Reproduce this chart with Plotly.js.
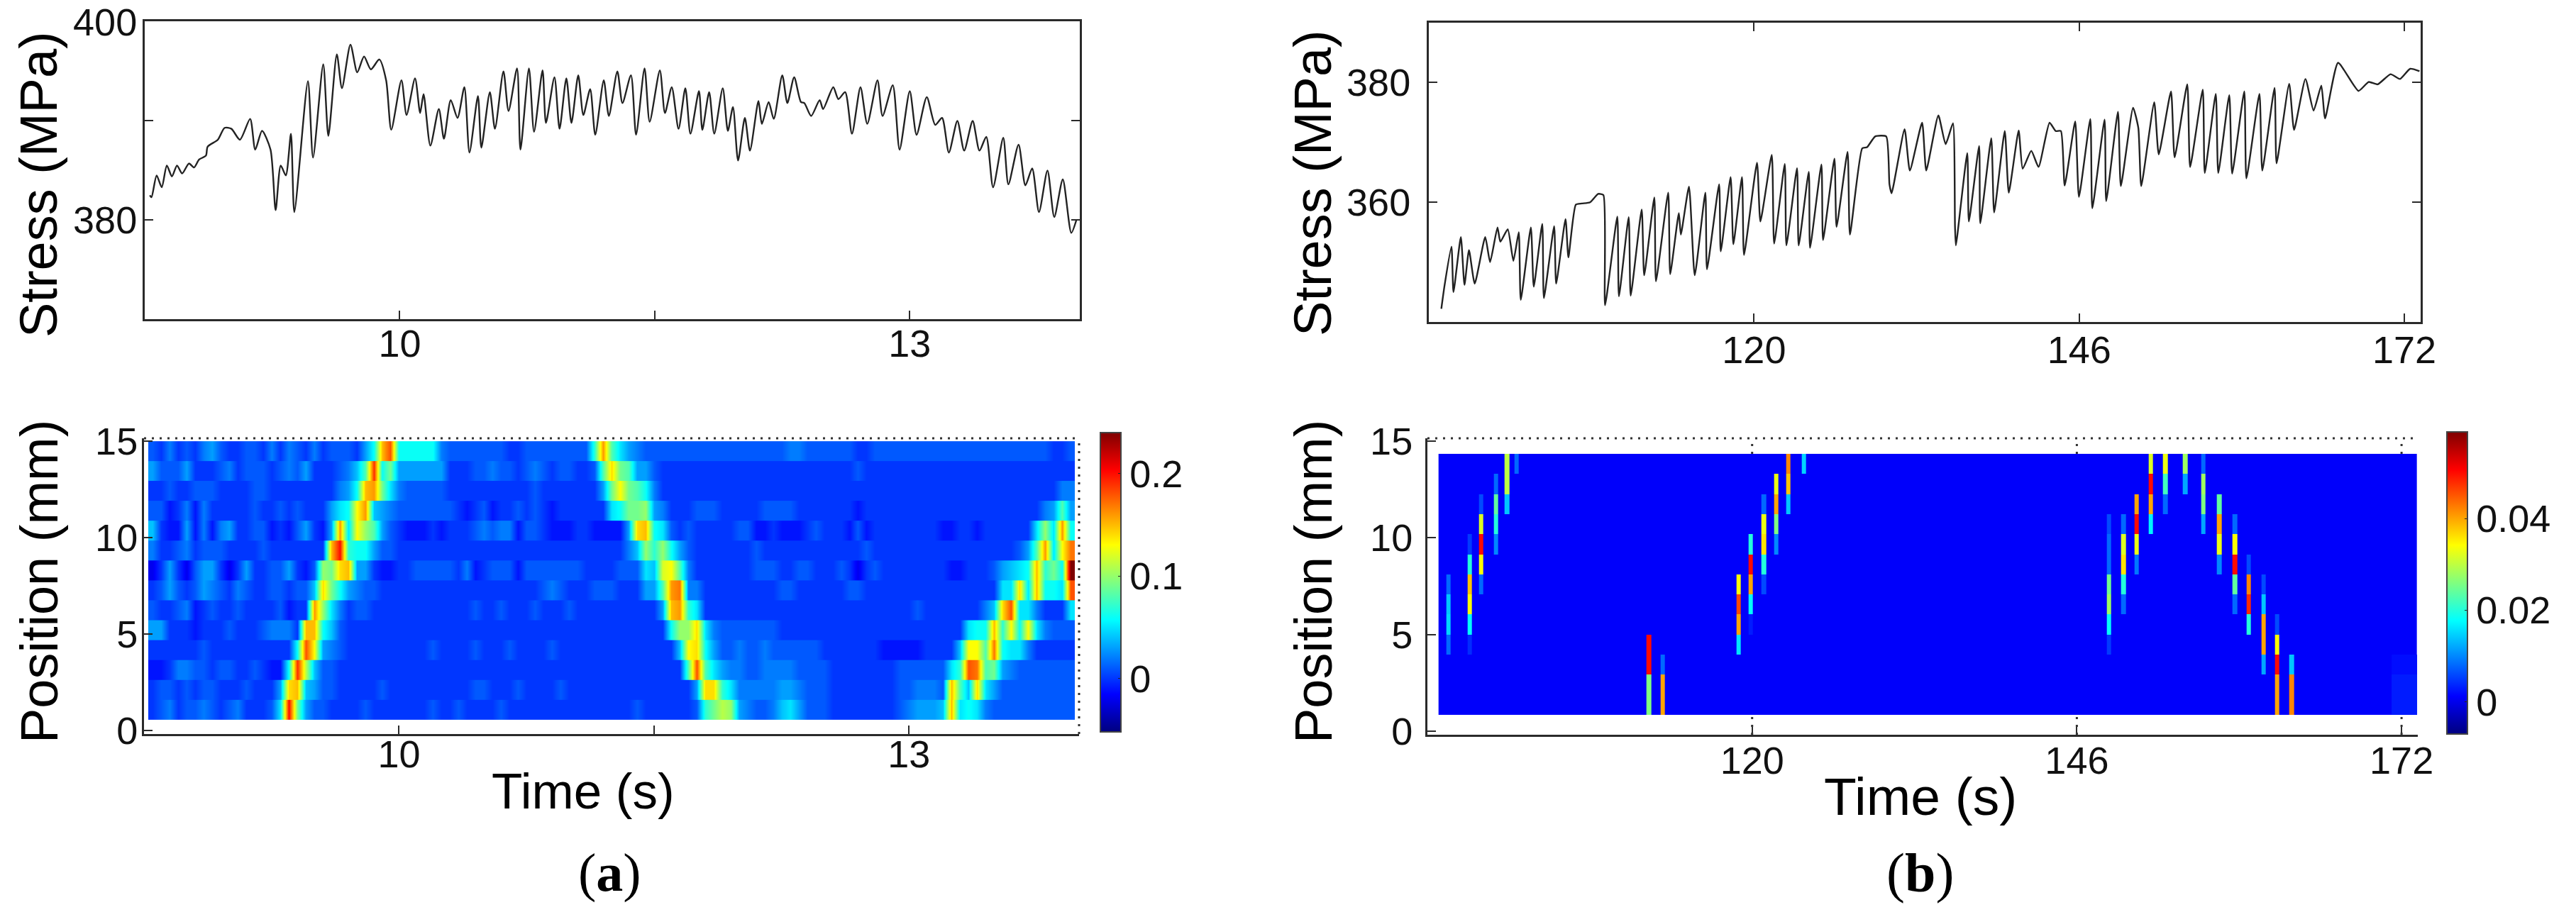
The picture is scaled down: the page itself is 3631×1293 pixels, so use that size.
<!DOCTYPE html>
<html>
<head>
<meta charset="utf-8">
<script src="https://cdn.plot.ly/plotly-3.0.1.min.js"></script>
<style>body{margin:0;background:#fff}</style>
</head>
<body>
<div id="chart" style="width:3631px;height:1293px"></div>
<script>
//Stress trace of panel (a), turning points
var aTime=[8.53,8.54,8.57,8.60,8.63,8.66,8.69,8.72,8.76,8.79,8.82,8.86,8.87,8.93,8.97,9.01,9.06,9.12,9.15,9.19,9.24,9.27,9.30,9.33,9.36,9.38,9.46,9.49,9.55,9.58,9.63,9.66,9.71,9.75,9.79,9.83,9.88,9.92,9.95,10.01,10.04,10.09,10.12,10.14,10.18,10.23,10.26,10.30,10.34,10.38,10.41,10.46,10.48,10.53,10.56,10.61,10.64,10.69,10.71,10.76,10.79,10.84,10.86,10.91,
10.94,10.98,11.01,11.05,11.08,11.12,11.15,11.20,11.23,11.28,11.31,11.36,11.39,11.44,11.47,11.53,11.56,11.60,11.64,11.68,11.71,11.76,11.78,11.82,11.85,11.90,11.93,11.96,11.99,12.03,12.06,12.11,12.13,12.17,12.20,12.25,12.28,12.32,12.36,12.38,12.42,12.47,12.49,12.55,12.58,12.62,12.66,12.71,12.75,12.81,12.84,12.90,12.94,13.00,13.04,13.10,13.15,13.19,13.23,13.28,13.32,13.37,13.41,13.45,13.49,13.55,13.58,13.64,13.68,13.72,13.76,13.81,13.85,13.90,13.95,13.98]
var aStress=[382.5,382.3,384.5,383.3,385.5,384.4,385.5,384.7,385.7,385.3,386.1,386.5,387.4,388.1,389.3,389.2,388.1,390.2,387.1,389.0,387.1,381.0,385.5,384.5,388.7,380.8,394.0,386.3,395.7,388.5,396.7,393.3,397.7,394.9,396.5,395.2,396.2,394.1,389.1,394.1,390.6,394.3,390.8,392.7,387.5,391.2,388.2,392.1,390.3,393.4,386.8,392.5,387.3,392.9,389.2,395.0,391.0,395.3,387.1,395.3,388.9,395.1,389.8,394.4,
389.2,394.3,389.8,394.6,390.6,393.2,388.6,394.1,390.5,395.0,391.8,394.6,388.6,395.3,389.9,395.1,390.8,393.4,389.2,393.3,388.7,393.0,389.1,392.9,388.7,393.3,389.0,391.4,386.0,390.3,387.0,392.0,389.7,391.9,390.2,394.6,391.8,394.4,391.9,391.8,390.5,392.1,391.2,393.4,392.2,392.9,388.7,393.4,389.7,394.1,390.5,393.6,387.1,393.0,388.6,392.4,389.6,390.3,386.8,390.0,387.0,390.0,387.0,388.4,383.3,388.3,383.6,387.6,383.5,385.2,380.8,385.0,380.3,384.1,378.7,380.0]

//Stress trace of panel (b)
var bTime=[95.0,95.25,95.81,95.97,96.56,96.85,97.21,97.67,98.51,98.90,99.49,99.72,100.31,100.76,101.19,101.35,102.16,102.39,103.07,103.20,104.02,104.18,104.93,105.16,105.75,106.24,106.89,107.54,107.96,108.09,109.07,109.20,109.98,110.14,111.02,111.22,112.03,112.16,113.14,113.30,113.99,114.15,114.80,115.26,116.11,116.24,117.21,117.34,118.13,118.35,119.04,119.20,120.24,120.51,121.42,121.61,122.46,122.59,123.44,123.57,124.38,124.48,125.39,125.52,126.43,126.60,127.48,127.67,128.65,129.04,129.69,130.57,130.83,131.0,132.04,132.46,133.44,133.77,
134.74,135.32,135.91,136.07,136.14,137.05,137.18,138.0,138.09,138.97,139.2,140.05,140.37,141.16,141.48,142.17,142.75,143.63,144.12,144.54,144.84,145.68,145.98,146.89,147.05,148.03,148.16,149.10,149.33,150.31,150.73,150.96,152.0,152.36,153.34,153.63,154.64,154.87,155.88,156.04,156.92,157.12,158.0,158.23,159.2,159.37,160.41,160.64,161.62,161.78,162.79,163.18,164.09,164.74,165.36,165.66,166.70,168.33,169.14,169.86,170.90,171.65,172.46,173.21]
var bStress=[342.2,346.0,352.6,345.0,354.2,346.2,352.0,346.4,354.2,350.0,355.8,353.4,355.5,350.2,355.0,343.7,355.8,345.9,356.4,344.0,356.0,346.4,357.2,350.8,359.6,359.8,360.0,361.4,361.2,342.8,357.6,344.3,357.5,344.4,358.8,347.8,360.8,346.8,361.6,348.0,358.2,354.6,362.6,347.8,361.6,348.8,363.0,351.8,364.2,353.0,364.2,351.2,366.6,356.8,367.9,353.1,366.4,352.8,365.7,352.8,365.1,352.4,366.3,353.7,367.3,355.9,368.4,354.6,369.0,369.2,371.0,371.0,363.0,361.5,372.2,365.3,373.3,365.3,
374.5,369.7,373.2,356.0,352.8,368.2,356.8,369.4,356.5,370.7,358.3,371.9,361.6,372.0,365.6,368.6,365.9,373.3,371.9,371.9,362.8,373.5,360.9,373.9,359.0,373.8,360.2,375.1,362.7,375.8,372.4,362.7,376.7,368.0,378.5,367.5,379.7,365.9,378.8,364.9,378.1,364.9,377.9,364.8,378.5,364.0,378.1,365.3,379.1,366.5,379.8,372.1,380.6,375.3,379.5,374.0,383.3,378.6,380.1,379.7,381.4,380.6,382.3,381.9]

//Panel (a) map, in units of 0.01, top row first, one column every 0.05 s from 8.55 s
var aRows=[
[1,0,2,0,1,0,2,3,1,0, 0,1,1,0,2,0,2,1,0,2, 0,1,1,1,0,3,6,15,18,6, 6,6,6,6,2,1,1,1,1,1, 1,1,0,0,1,1,1,1,1,1, 1,1,7,16,8,5,3,2,1,1, 1,1,1,1,1,1,1,1,1,1, 1,1,1,1,1,2,2,1,1,1, 1,1,1,0,0,1,1,1,1,1, 1,1,1,1,1,1,1,1,1,1, 1,1,1,1,1,1,0,0,1],
[3,1,1,1,3,0,0,0,1,2, 0,1,1,1,0,1,2,1,3,0, 0,0,1,2,4,8,19,6,9,3, 3,3,3,3,3,0,0,0,1,1, 2,1,1,0,1,2,1,0,1,1, 0,0,1,8,14,9,8,3,3,1, 0,0,0,0,0,0,0,0,0,0, 0,0,0,0,0,0,0,0,0,0, 0,0,0,1,0,0,0,0,0,0, 0,0,0,0,0,0,0,0,0,0, 0,0,0,0,0,0,0,0,0],
[0,0,1,0,0,1,1,1,0,0, 0,0,1,1,0,0,0,0,0,0, 0,0,2,3,6,15,16,9,5,2, 1,1,1,1,1,0,0,0,0,0, 0,0,0,0,0,1,0,0,0,0, 0,0,0,3,9,13,9,8,6,2, 0,0,0,0,0,0,0,0,0,0, 0,0,0,0,0,0,0,0,0,0, 0,0,0,0,0,0,0,0,0,0, 0,0,0,0,0,0,0,0,0,0, 0,0,0,0,0,0,0,2,2],
[1,1,-1,0,2,-1,2,0,0,0, 0,0,1,0,0,1,0,1,0,0, 0,3,5,6,13,16,4,3,2,1, 1,1,1,1,1,1,0,-1,0,1, -1,0,0,1,0,1,0,-1,0,0, 0,0,0,0,5,6,9,9,10,3, 2,0,0,0,1,1,1,0,0,0, 0,0,1,1,1,1,0,0,0,0, 0,0,0,-1,0,0,0,0,0,0, 0,0,0,0,0,0,0,0,0,0, 0,0,0,0,0,2,3,8,3],
[4,0,-1,-1,3,-1,2,-1,2,3, 0,0,1,1,-1,0,-1,1,3,0, -1,3,16,5,13,10,8,3,1,0, -1,-1,-1,0,-1,0,0,0,1,2, 1,2,2,-1,1,1,0,-1,-1,-1, 0,0,-1,-1,-1,-1,3,14,15,6, 5,1,0,1,0,0,0,0,0,1, 1,-1,-1,0,-1,-1,-1,0,1,0, 0,0,-1,1,-1,0,0,0,0,0, 0,0,0,-1,-1,0,0,-1,0,0, 0,0,0,0,5,10,5,16,6],
[2,0,0,1,2,0,1,1,1,0, 0,0,0,1,0,0,0,0,0,0, 0,15,20,7,6,6,3,1,1,0, 0,0,0,0,0,0,0,0,0,0, 0,0,0,0,0,0,0,0,0,0, 0,0,0,0,0,0,2,4,10,7, 10,6,3,1,0,0,0,0,0,0, 0,1,0,0,0,0,0,0,0,0, 0,0,0,0,1,0,0,0,0,0, 0,0,0,0,0,0,0,0,0,0, 0,0,1,3,8,16,5,13,17],
[-2,0,3,0,-2,1,3,3,0,-2, 0,3,0,0,1,1,3,0,-1,1, 10,9,14,15,3,3,0,-1,-1,0, 0,1,1,1,1,1,0,2,-1,0, 1,1,1,-1,1,1,1,1,1,1, 1,0,0,0,0,1,1,1,5,4, 12,13,8,2,0,0,0,0,0,0, 0,1,1,1,0,0,1,1,0,0, 0,1,0,-2,0,1,0,0,0,0, 0,0,0,0,-1,-1,0,0,0,1, 3,4,5,6,15,7,9,6,24],
[0,1,3,1,0,1,3,2,1,0, 2,1,0,0,1,1,0,1,1,4, 14,9,6,3,2,1,1,0,0,0, 0,0,0,0,0,0,0,0,0,0, 0,0,0,0,0,0,1,2,1,0, 0,0,1,1,1,0,0,0,3,3, 8,16,17,2,2,0,0,0,0,0, 0,0,0,0,1,1,0,0,0,0, 0,0,1,1,0,0,0,0,0,0, 0,0,0,0,0,0,0,0,0,0, 5,5,14,5,15,6,6,5,18],
[1,0,0,1,2,-1,0,1,0,0, 1,0,0,0,0,1,-1,0,0,16, 10,5,2,0,1,1,0,0,0,0, 0,0,0,0,0,0,0,0,1,0, 0,1,0,0,0,1,0,0,0,1, 0,0,0,0,0,0,0,0,0,0, 3,15,16,7,5,0,0,0,0,0, 0,0,0,0,0,0,0,0,0,0, 0,0,0,0,0,0,0,0,0,0, 1,0,0,0,0,0,0,0,2,4, 14,18,5,5,2,0,0,0,5],
[3,3,0,0,0,-1,0,0,0,1, 0,0,0,1,2,2,2,0,15,15, 6,4,1,0,0,0,0,0,0,0, 0,0,0,0,0,0,0,0,0,0, 0,0,0,0,0,0,0,0,0,0, 0,0,0,0,0,0,0,0,0,0, 0,6,10,10,14,5,2,1,1,1, 1,1,1,1,0,0,0,0,0,0, 0,0,0,0,0,0,0,0,0,0, 0,0,0,0,0,0,5,6,6,15, 7,13,6,13,5,2,1,1,1],
[0,0,0,0,0,0,1,0,0,0, 0,0,0,0,0,0,0,6,18,13, 3,2,1,0,0,0,0,0,0,0, 0,0,0,1,0,0,0,0,1,0, 0,0,1,0,0,0,0,1,0,0, 0,0,0,0,0,0,0,0,0,0, 0,0,4,13,14,6,3,1,1,2, 1,1,2,1,1,1,1,1,1,0, 0,0,0,0,0,0,-1,-1,-1,-1, -1,0,0,0,0,4,13,13,8,17, 6,5,5,2,0,0,0,0,0],
[-1,-1,0,2,2,1,1,0,1,1, 0,0,1,0,-1,-1,6,19,11,4, 1,1,0,0,0,0,0,0,0,0, 0,0,0,0,0,0,0,0,0,0, 0,0,0,0,0,0,0,0,0,0, 0,0,0,0,0,0,0,0,0,0, 0,0,0,8,18,8,5,3,2,2, 1,1,2,2,2,2,1,1,1,1, 0,0,0,0,0,0,0,0,1,1, 1,1,1,1,5,7,18,17,8,9, 3,2,1,1,1,1,1,1,1],
[0,1,1,0,1,0,1,1,0,0, 0,1,0,0,0,3,14,15,4,3, 1,1,0,0,0,0,0,1,0,0, 0,0,0,0,0,0,0,0,1,1, 0,0,0,1,0,0,0,0,1,0, 0,0,0,0,0,0,0,0,0,0, 0,0,0,0,3,14,14,7,5,2, 2,2,2,2,3,3,2,1,1,1, 0,0,0,0,0,0,0,0,1,1, 2,2,2,1,15,8,4,14,5,3, 1,1,1,1,1,1,1,1,1],
[0,1,2,0,1,1,2,1,0,1, 2,0,0,0,1,5,20,9,3,1, 1,0,0,0,0,1,0,0,0,0, 0,0,0,1,0,0,1,0,0,0, 0,1,0,0,0,0,0,0,0,0, 0,0,0,0,0,0,0,1,0,0, 0,0,0,0,1,7,9,11,10,3, 2,1,1,2,4,5,3,1,1,1, 0,0,0,0,0,0,0,0,1,2, 3,3,3,4,15,5,6,5,2,1, 1,1,1,1,1,1,1,1,1]
]

//Panel (b) map: times of the narrow stripes, values in units of 0.001, top row first
var stripeTimes=[95.7,97.38,98.31,99.5,100.37,101.15,111.73,112.83,118.92,119.9,120.94,121.93,122.89,124.13,148.57,149.73,150.8,151.93,153.09,154.68,156.13,157.41,158.65,159.76,160.97,162.02,163.2]
var bRows=[
[1,1,1,1,30,8,1,1,1,1,1,1,42,15,1,1,1,32,33,28,8,1,1,1,1,1,1],
[1,1,1,8,30,1,1,1,1,1,1,33,38,1,1,1,1,50,22,12,28,1,1,1,1,1,1],
[1,1,6,24,14,1,1,1,1,1,8,40,14,1,1,1,40,40,8,1,26,24,1,1,1,1,1],
[1,1,32,20,1,1,1,1,1,1,33,26,1,1,6,8,50,17,1,1,12,40,8,1,1,1,1],
[1,5,50,10,1,1,1,1,1,20,36,10,1,1,8,32,33,1,1,1,1,33,34,1,1,1,1],
[1,20,34,1,1,1,1,1,1,50,20,1,1,1,8,36,9,1,1,1,1,10,50,6,1,1,1],
[8,38,8,1,1,1,1,1,34,40,6,1,1,1,25,20,1,1,1,1,1,1,24,42,6,1,1],
[14,34,1,1,1,1,1,1,46,18,1,1,1,1,28,8,1,1,1,1,1,1,8,48,14,1,1],
[15,18,1,1,1,1,1,1,40,3,1,1,1,1,18,1,1,1,1,1,1,1,1,20,40,6,1],
[8,4,1,1,1,1,50,1,16,1,1,1,1,1,5,1,1,1,1,1,1,1,1,1,40,34,1],
[1,1,1,1,1,1,50,8,1,1,1,1,1,1,1,1,1,1,1,1,1,1,1,1,12,50,14],
[1,1,1,1,1,1,26,40,1,1,1,1,1,1,1,1,1,1,1,1,1,1,1,1,1,40,42],
[1,1,1,1,1,1,26,40,1,1,1,1,1,1,1,1,1,1,1,1,1,1,1,1,1,40,42]
]
var bBackground=1
var stripeHalf=0.18
//the slightly lighter patch at the lower right of (b)
var bPatch=[[0.003],[0.003],[0.002]]

var aTicksX=[10,11.5,13]
var aTickTextX=["10","","13"]
var bTicksX=[120,146,172]
var jet=[[0,"#00007f"],[0.125,"#0000ff"],[0.375,"#00ffff"],[0.625,"#ffff00"],[0.875,"#ff0000"],[1,"#7f0000"]]

var W=3631,H=1293
function domX(a,b){return [a/W,b/W]}
function domY(top,bottom){return [1-bottom/H,1-top/H]}

var bEdges=[94.89]
stripeTimes.forEach(t=>{bEdges.push(t-stripeHalf);bEdges.push(t+stripeHalf)})
bEdges.push(173.24)
var bZ=bRows.slice().reverse().map(r=>{
    var row=[bBackground/1000]
    r.forEach(v=>{row.push(v/1000);row.push(bBackground/1000)})
    return row
})

var traces=[
    {x:aTime,y:aStress,type:"scatter",mode:"lines",line:{color:"#222",width:2.4,shape:"spline",smoothing:0.7},xaxis:"x",yaxis:"y"},
    {x:bTime,y:bStress,type:"scatter",mode:"lines",line:{color:"#222",width:2.4,shape:"spline",smoothing:0.5},xaxis:"x3",yaxis:"y3"},
    {z:bZ,x:bEdges,y0:1.37,dy:1.038,type:"heatmap",coloraxis:"coloraxis2",xaxis:"x4",yaxis:"y4"},
    {z:bPatch,x:[171.2,173.24],y0:1.37,dy:1.038,type:"heatmap",coloraxis:"coloraxis2",xaxis:"x4",yaxis:"y4"}
]
//each row of (a) is its own trace, so it blends along time but keeps hard edges between rows
//rows overlap a little at the top, the next row is drawn over it, that closes the seams
aRows.slice().reverse().forEach((r,i)=>{
    var row=r.map(v=>v/100)
    var top=0.55+(i+1)*1.032
    if(i<13) top+=0.08
    traces.push({z:[row,row],x0:8.55,dx:0.05,y:[0.55+i*1.032,0.55+(i+0.5)*1.032,top],
        type:"heatmap",zsmooth:"best",coloraxis:"coloraxis",xaxis:"x2",yaxis:"y2"})
})

var tickFont={family:"Liberation Sans, Arial, sans-serif",size:54,color:"#111"}
function axis(extra){
    return Object.assign({showgrid:false,zeroline:false,showline:true,linecolor:"#2a2a2a",linewidth:3,
        ticks:"inside",tickcolor:"#2a2a2a",tickwidth:2,ticklen:12,tickmode:"array",tickfont:tickFont},extra)
}
function bar(x,bottom,top,vals,text){
    return {x:x/W,xanchor:"left",y:1-bottom/H,yanchor:"bottom",thicknessmode:"pixels",thickness:29,lenmode:"pixels",len:bottom-top,
        xpad:0,ypad:0,outlinecolor:"#444",outlinewidth:2,ticks:"inside",ticklen:5,tickcolor:"#222",tickmode:"array",tickvals:vals,ticktext:text,tickfont:tickFont}
}

//dotted frame parts of the two maps
var dotted={color:"#333",width:3,dash:"3px,8px"}
var shapes=[
    {type:"line",xref:"x2 domain",yref:"y2 domain",x0:0,x1:1,y0:1,y1:1,line:dotted},
    {type:"line",xref:"x2 domain",yref:"y2 domain",x0:1,x1:1,y0:0,y1:1,line:dotted},
    {type:"line",xref:"x4 domain",yref:"y4 domain",x0:0,x1:1,y0:1,y1:1,line:dotted}
]
bTicksX.forEach(t=>{
    shapes.push({type:"line",xref:"x4",yref:"y4",x0:t,x1:t,y0:14.34,y1:15.15,line:dotted})
    shapes.push({type:"line",xref:"x4",yref:"y4",x0:t,x1:t,y0:-0.18,y1:0.85,line:dotted})
})

function label(text,x,y,size,angle,family){
    return {text:text,xref:"paper",yref:"paper",x:x/W,y:1-y/H,xanchor:"center",yanchor:"middle",showarrow:false,textangle:angle||0,
        font:{family:family||"Liberation Sans, Arial, sans-serif",size:size,color:"#000"}}
}
var serif="Liberation Serif, Times New Roman, serif"

var layout={
    width:W,height:H,margin:{l:0,r:0,t:0,b:0},paper_bgcolor:"#fff",plot_bgcolor:"#fff",showlegend:false,
    xaxis:axis({domain:domX(204,1522),range:[8.5,14],anchor:"y",tickvals:aTicksX,ticktext:aTickTextX,mirror:true,ticklabelstandoff:-15}),
    yaxis:axis({domain:domY(30,450),range:[370,400.05],anchor:"x",tickvals:[380,390,400],ticktext:["380","","400"],mirror:"ticks",ticklabelstandoff:-3}),
    xaxis2:axis({domain:domX(203,1521),range:[8.5,14],anchor:"y2",tickvals:aTicksX,ticktext:aTickTextX,ticklabelstandoff:-21}),
    yaxis2:axis({domain:domY(618,1035),range:[-0.18,15.15],anchor:"x2",tickvals:[0,5,10,15],ticktext:["0","5","10","15"],ticklabelstandoff:-5}),
    xaxis3:axis({domain:domX(2014,3412),range:[94,173.3],anchor:"y3",tickvals:bTicksX,ticktext:["120","146","172"],mirror:"ticks",ticklabelstandoff:-10}),
    yaxis3:axis({domain:domY(32,454),range:[340,390],anchor:"x3",tickvals:[360,380],ticktext:["360","380"],mirror:"ticks",ticklabelstandoff:12}),
    xaxis4:axis({domain:domX(2012,3408),range:[94,173.3],anchor:"y4",tickvals:bTicksX,ticktext:["120","146","172"],ticklabelstandoff:-13}),
    yaxis4:axis({domain:domY(618,1036),range:[-0.18,15.15],anchor:"x4",tickvals:[0,5,10,15],ticktext:["0","5","10","15"],ticklabelstandoff:7}),
    coloraxis:{cmin:-0.052,cmax:0.24,colorscale:jet,colorbar:bar(1551,1032,610,[0,0.1,0.2],["0","0.1","0.2"])},
    coloraxis2:{cmin:-0.007,cmax:0.0589,colorscale:jet,colorbar:bar(3449,1035,609,[0,0.02,0.04],["0","0.02","0.04"])},
    shapes:shapes,
    annotations:[
        label("Stress (MPa)",55,260,74,-90),
        label("Position (mm)",55,820,74,-90),
        label("Stress (MPa)",1851,258,74,-90),
        label("Position (mm)",1851,820,74,-90),
        label("Time (s)",822,1115,71),
        label("Time (s)",2707,1123,75),
        label("(<b>a</b>)",859,1230,76,0,serif),
        label("(<b>b</b>)",2706,1230,78,0,serif)
    ]
}

Plotly.newPlot("chart",traces,layout,{displayModeBar:false,responsive:false})
</script>
</body>
</html>
